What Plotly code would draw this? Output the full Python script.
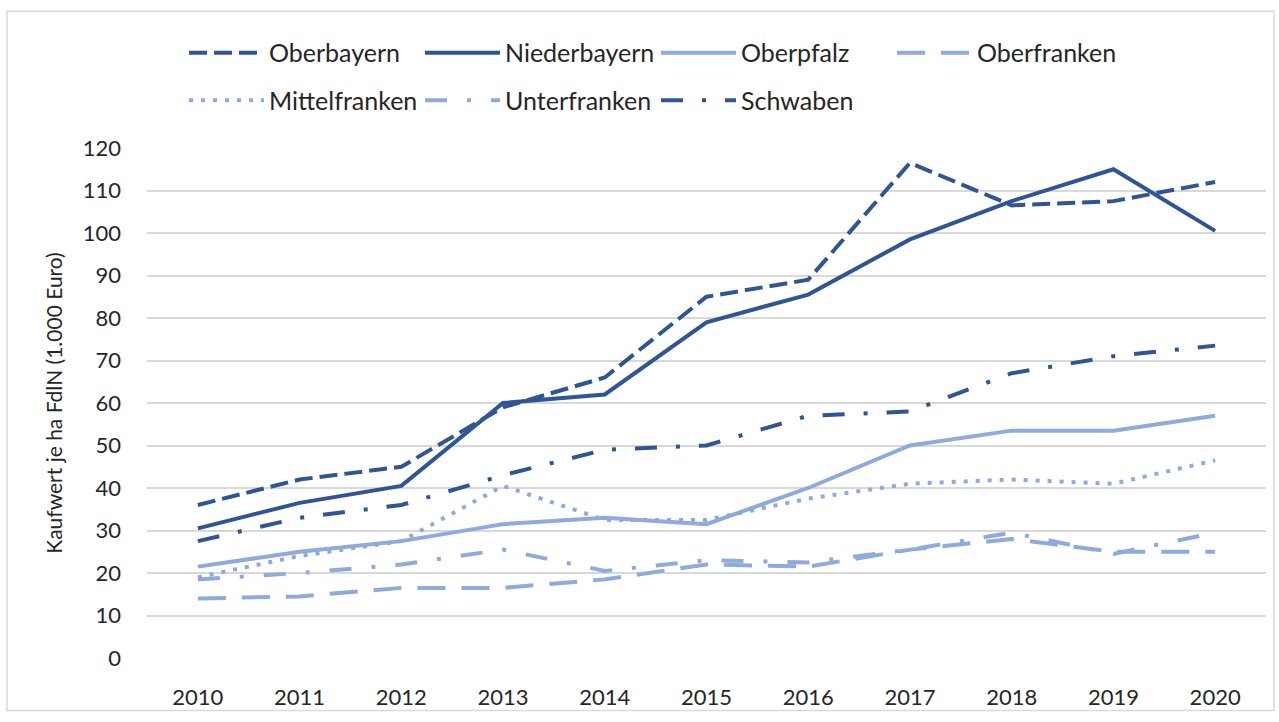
import plotly.graph_objects as go

years = [2010, 2011, 2012, 2013, 2014, 2015, 2016, 2017, 2018, 2019, 2020]
oberbayern = [36, 42, 45, 59, 66, 85, 89, 116.5, 106.5, 107.5, 112]
niederbayern = [30.5, 36.5, 40.5, 60, 62, 79, 85.5, 98.5, 107.5, 115, 100.5]
oberpfalz = [21.5, 25, 27.5, 31.5, 33, 31.5, 40, 50, 53.5, 53.5, 57]
oberfranken = [14, 14.5, 16.5, 16.5, 18.5, 22, 21.5, 25.5, 28, 25, 25]
mittelfranken = [19, 24, 27.5, 40.5, 32.5, 32.5, 37.5, 41, 42, 41, 46.5]
unterfranken = [18.5, 20, 22, 25.5, 20.5, 23, 22.5, 25.5, 29.5, 24.5, 29.5]
schwaben = [27.5, 33, 36, 43, 49, 50, 57, 58, 67, 71, 73.5]
y_ticks = [0, 10, 20, 30, 40, 50, 60, 70, 80, 90, 100, 110, 120]

DARK = "#2F5597"
LIGHT = "#8FAADC"
FONT = "Lato"
TXT = "#262626"

series = [
    ("Oberbayern", oberbayern, DARK, "18px,7px", "legend"),
    ("Niederbayern", niederbayern, DARK, "solid", "legend"),
    ("Oberpfalz", oberpfalz, LIGHT, "solid", "legend"),
    ("Oberfranken", oberfranken, LIGHT, "28px,16px", "legend"),
    ("Mittelfranken", mittelfranken, LIGHT, "4px,8px", "legend2"),
    ("Unterfranken", unterfranken, LIGHT, "22px,20px,4px,20px", "legend2"),
    ("Schwaben", schwaben, DARK, "22px,19px,4px,19px", "legend2"),
]

fig = go.Figure()
for name, vals, color, dash, lg in series:
    fig.add_trace(go.Scatter(
        x=years, y=vals, name=name, mode="lines",
        line=dict(color=color, width=4, dash=dash),
        legend=lg,
    ))

L, R, T, B = 147, 13, 148, 59
W, H = 1279, 722
pw, ph = W - L - R, H - T - B

def px_x(p):
    return (p - L) / pw

def px_y(p):
    return (H - B - p) / ph

legend_common = dict(
    orientation="h", xanchor="left", yanchor="middle",
    entrywidth=146, entrywidthmode="pixels", itemwidth=75,
    font=dict(size=25, family=FONT, color=TXT), bgcolor="rgba(0,0,0,0)",
)

fig.update_layout(
    width=W, height=H,
    margin=dict(l=L, r=R, t=T, b=B),
    paper_bgcolor="white", plot_bgcolor="white",
    font=dict(family=FONT, size=22, color=TXT),
    xaxis=dict(
        range=[2009.5, 2020.5], tickvals=years, ticktext=[str(y) for y in years],
        showgrid=False, zeroline=False, showline=False, ticks="",
        ticklabelstandoff=24,
        tickfont=dict(size=22, family=FONT, color=TXT),
    ),
    yaxis=dict(
        range=[0, 120], tickvals=y_ticks, showgrid=True, gridcolor="#D9D9D9", gridwidth=1.5,
        zeroline=False, showline=False, ticks="",
        ticklabelstandoff=25,
        tickfont=dict(size=22, family=FONT, color=TXT),
        title=dict(text="Kaufwert je ha FdlN (1.000 Euro)",
                   font=dict(size=21, family=FONT, color=TXT), standoff=14),
    ),
    legend=dict(x=px_x(184), y=px_y(52), **legend_common),
    legend2=dict(x=px_x(184), y=px_y(100), **legend_common),
    shapes=[dict(
        type="rect", xref="paper", yref="paper",
        x0=px_x(7), x1=px_x(1274), y0=px_y(716), y1=px_y(10),
        line=dict(color="#D9D9D9", width=1.5), fillcolor="rgba(0,0,0,0)", layer="below",
    )],
)

fig.write_html("out.html", config={"displayModeBar": False},
               post_script="document.body.style.margin='0px';")
